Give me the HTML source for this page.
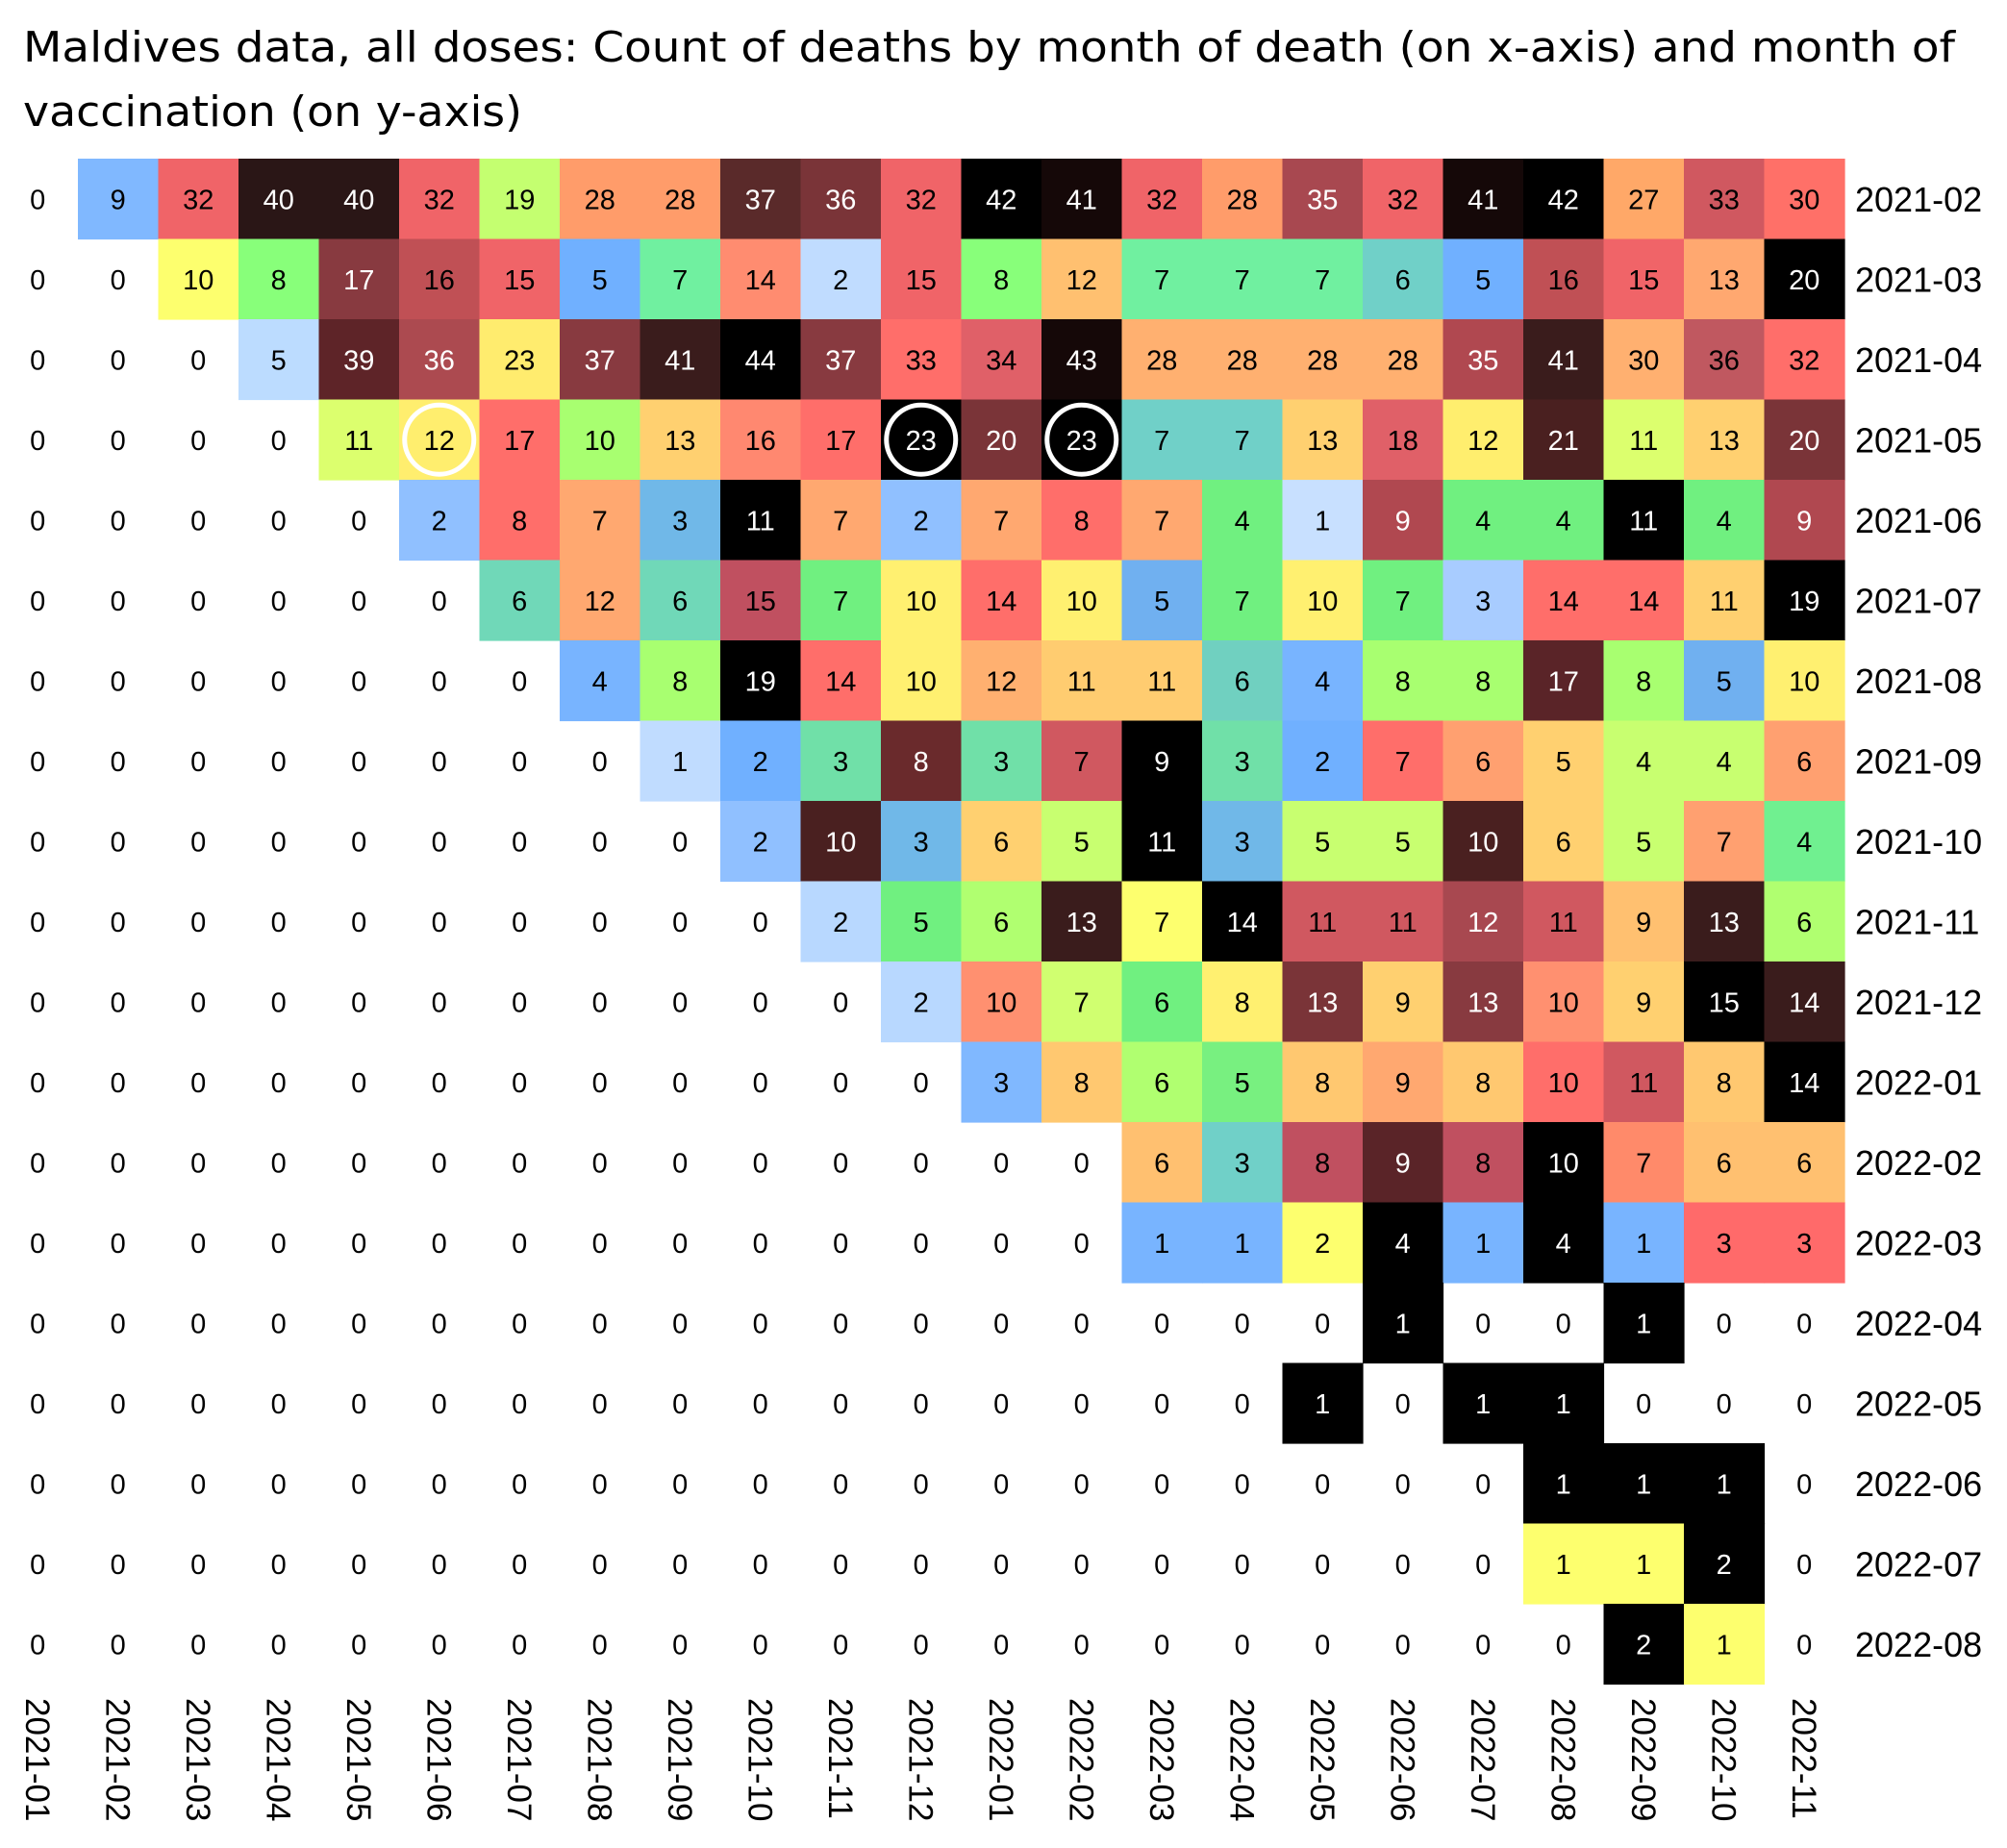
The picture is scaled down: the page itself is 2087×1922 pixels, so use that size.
<!DOCTYPE html>
<html><head><meta charset="utf-8"><style>
html,body{margin:0;padding:0;background:#fff;width:2087px;height:1922px;overflow:hidden}
svg{display:block}
text{font-family:"Liberation Sans",sans-serif}
</style></head><body>
<svg id="s" width="2087" height="1922" xmlns="http://www.w3.org/2000/svg">
<text x="24" y="64" font-size="44" fill="#000" style="font-family:'DejaVu Sans',sans-serif" textLength="2009" lengthAdjust="spacingAndGlyphs">Maldives data, all doses: Count of deaths by month of death (on x-axis) and month of</text>
<text x="24" y="131" font-size="44" fill="#000" style="font-family:'DejaVu Sans',sans-serif" textLength="519" lengthAdjust="spacingAndGlyphs">vaccination (on y-axis)</text>
</svg>
<script>
const K='#000',V='#150808',D='#2a1616',DB='#3a1c1c',B4='#4a2020',B5='#5a2428',BR='#7a3438',B8='#883a40',RD='#b04850',RC='#c05055',R='#f06468',RR='#ff6e6a',OR='#ffa070',LO='#ffc870',Y='#fdff6e',YE='#ffee6e',LG='#c8ff70',G='#88ff7a',GT='#70f090',TE='#70d0c8',BL='#78b4ff',LB='#bcdcff',W=null;
const rows=[
[[0,W],[9,'#80b8ff'],[32,R],[40,D],[40,D],[32,R],[19,'#c4ff70'],[28,'#ff9c6a'],[28,'#ff9c6a'],[37,'#5a2a2a'],[36,'#7a3438'],[32,R],[42,K],[41,V],[32,R],[28,'#ff9c6a'],[35,'#a84850'],[32,R],[41,V],[42,K],[27,'#ffa868'],[33,'#d05860'],[30,'#ff7068']],
[[0,W],[0,W],[10,Y],[8,G],[17,B8],[16,RC],[15,R],[5,'#70b0ff'],[7,'#70f0a0'],[14,'#ff8c70'],[2,'#c0dcff'],[15,R],[8,G],[12,'#ffc070'],[7,'#70f0a0'],[7,'#70f0a0'],[7,'#70f0a0'],[6,TE],[5,'#70b0ff'],[16,RC],[15,R],[13,'#ffa870'],[20,K]],
[[0,W],[0,W],[0,W],[5,LB],[39,'#5e2428'],[36,'#ac4a50'],[23,'#ffec6e'],[37,B8],[41,DB],[44,K],[37,B8],[33,RR],[34,'#e06068'],[43,V],[28,'#ffb070'],[28,'#ffb070'],[28,'#ffb070'],[28,'#ffb070'],[35,RD],[41,DB],[30,'#ffb070'],[36,'#c05860'],[32,RR]],
[[0,W],[0,W],[0,W],[0,W],[11,'#dcff6e'],[12,YE],[17,RR],[10,'#a8ff70'],[13,'#ffd070'],[16,'#ff8870'],[17,RR],[23,K],[20,BR],[23,K],[7,TE],[7,TE],[13,'#ffd070'],[18,'#e06068'],[12,YE],[21,B4],[11,'#dcff6e'],[13,'#ffd070'],[20,BR]],
[[0,W],[0,W],[0,W],[0,W],[0,W],[2,'#90c0ff'],[8,RR],[7,'#ffa870'],[3,'#70b8e8'],[11,K],[7,'#ffa870'],[2,'#90c0ff'],[7,'#ffa870'],[8,RR],[7,'#ffa870'],[4,'#70f080'],[1,'#c8e0ff'],[9,RD],[4,'#70f080'],[4,'#70f080'],[11,K],[4,'#70f080'],[9,RD]],
[[0,W],[0,W],[0,W],[0,W],[0,W],[0,W],[6,'#70d8b8'],[12,'#ffa870'],[6,'#70d8b8'],[15,'#c05060'],[7,'#70f080'],[10,'#fff070'],[14,RR],[10,'#fff070'],[5,'#70b0f0'],[7,'#70f080'],[10,'#fff070'],[7,'#70f080'],[3,'#a8ccff'],[14,RR],[14,RR],[11,'#ffd070'],[19,K]],
[[0,W],[0,W],[0,W],[0,W],[0,W],[0,W],[0,W],[4,BL],[8,'#a8ff70'],[19,K],[14,RR],[10,'#fff070'],[12,'#ffb070'],[11,'#ffcc70'],[11,'#ffcc70'],[6,'#70d0c0'],[4,BL],[8,'#a8ff70'],[8,'#a8ff70'],[17,B5],[8,'#a8ff70'],[5,'#70b0f0'],[10,'#fff070']],
[[0,W],[0,W],[0,W],[0,W],[0,W],[0,W],[0,W],[0,W],[1,'#c0dcff'],[2,'#70b0ff'],[3,'#70e0a8'],[8,'#6a2a2c'],[3,'#70e0a8'],[7,'#d05860'],[9,K],[3,'#70e0a8'],[2,'#70b0ff'],[7,RR],[6,OR],[5,'#ffd070'],[4,LG],[4,LG],[6,OR]],
[[0,W],[0,W],[0,W],[0,W],[0,W],[0,W],[0,W],[0,W],[0,W],[2,'#90c0ff'],[10,B4],[3,'#70b8e8'],[6,'#ffd070'],[5,LG],[11,K],[3,'#70b8e8'],[5,LG],[5,LG],[10,B4],[6,'#ffd070'],[5,LG],[7,OR],[4,GT]],
[[0,W],[0,W],[0,W],[0,W],[0,W],[0,W],[0,W],[0,W],[0,W],[0,W],[2,'#b8d8ff'],[5,'#70f080'],[6,'#b0ff70'],[13,DB],[7,Y],[14,K],[11,'#d05860'],[11,'#d05860'],[12,'#a84850'],[11,'#d05860'],[9,'#ffc070'],[13,DB],[6,'#b0ff70']],
[[0,W],[0,W],[0,W],[0,W],[0,W],[0,W],[0,W],[0,W],[0,W],[0,W],[0,W],[2,'#b8d8ff'],[10,'#ff9070'],[7,'#d0ff70'],[6,'#70f080'],[8,'#fff070'],[13,BR],[9,'#ffd070'],[13,B8],[10,'#ff9070'],[9,'#ffd070'],[15,K],[14,DB]],
[[0,W],[0,W],[0,W],[0,W],[0,W],[0,W],[0,W],[0,W],[0,W],[0,W],[0,W],[0,W],[3,'#80b8ff'],[8,LO],[6,'#b0ff70'],[5,'#78f080'],[8,LO],[9,'#ffa870'],[8,LO],[10,RR],[11,'#d05860'],[8,LO],[14,K]],
[[0,W],[0,W],[0,W],[0,W],[0,W],[0,W],[0,W],[0,W],[0,W],[0,W],[0,W],[0,W],[0,W],[0,W],[6,'#ffc070'],[3,TE],[8,'#c05060'],[9,B5],[8,'#c05060'],[10,K],[7,'#ff8a6a'],[6,'#ffc070'],[6,'#ffc070']],
[[0,W],[0,W],[0,W],[0,W],[0,W],[0,W],[0,W],[0,W],[0,W],[0,W],[0,W],[0,W],[0,W],[0,W],[1,BL],[1,BL],[2,Y],[4,K],[1,BL],[4,K],[1,BL],[3,'#ff6a6a'],[3,'#ff6a6a']]
];
function sparse(m){const r=[];for(let c=0;c<23;c++)r.push(m[c]||[0,W]);return r;}
rows.push(sparse({17:[1,K],20:[1,K]}));
rows.push(sparse({16:[1,K],18:[1,K],19:[1,K]}));
rows.push(sparse({19:[1,K],20:[1,K],21:[1,K]}));
rows.push(sparse({19:[1,Y],20:[1,Y],21:[2,K]}));
rows.push(sparse({20:[2,K],21:[1,Y]}));
const dark=new Set([K,V,D,DB,B4,B5,BR,B8,RD,'#5a2a2a','#7a3438','#5e2428','#ac4a50','#a84850','#6a2a2c']);
const ylab=['2021-02','2021-03','2021-04','2021-05','2021-06','2021-07','2021-08','2021-09','2021-10','2021-11','2021-12','2022-01','2022-02','2022-03','2022-04','2022-05','2022-06','2022-07','2022-08'];
const xlab=[];for(let i=0;i<23;i++){const y=2021+Math.floor(i/12),m=i%12+1;xlab.push(y+'-'+(m<10?'0':'')+m);}
const X0=-2.5,Y0=165,C=83.5;
let s='';
rows.forEach((row,r)=>{row.forEach(([v,col],c)=>{const x=X0+c*C,y=Y0+r*C;
 if(col)s+=`<rect x="${x}" y="${y}" width="${C+0.6}" height="${C+0.6}" fill="${col}"/>`;});});
rows.forEach((row,r)=>{row.forEach(([v,col],c)=>{const cx=X0+c*C+C/2,cy=Y0+r*C+C/2;
 const tc=col&&dark.has(col)?'#fff':'#000';
 s+=`<text x="${cx}" y="${cy+10.5}" font-size="29" text-anchor="middle" fill="${tc}">${v}</text>`;});});
[[3,5],[3,11],[3,13]].forEach(([r,c])=>{s+=`<circle cx="${X0+c*C+C/2}" cy="${Y0+r*C+C/2}" r="36" fill="none" stroke="#fff" stroke-width="5"/>`;});
ylab.forEach((l,r)=>{s+=`<text x="1929" y="${Y0+r*C+C/2+13}" font-size="36" fill="#000">${l}</text>`;});
xlab.forEach((l,c)=>{const cx=X0+c*C+C/2-12.5;s+=`<text transform="translate(${cx},1766) rotate(90)" font-size="35" fill="#000">${l}</text>`;});
document.getElementById('s').insertAdjacentHTML('beforeend',s);
</script>
</body></html>
